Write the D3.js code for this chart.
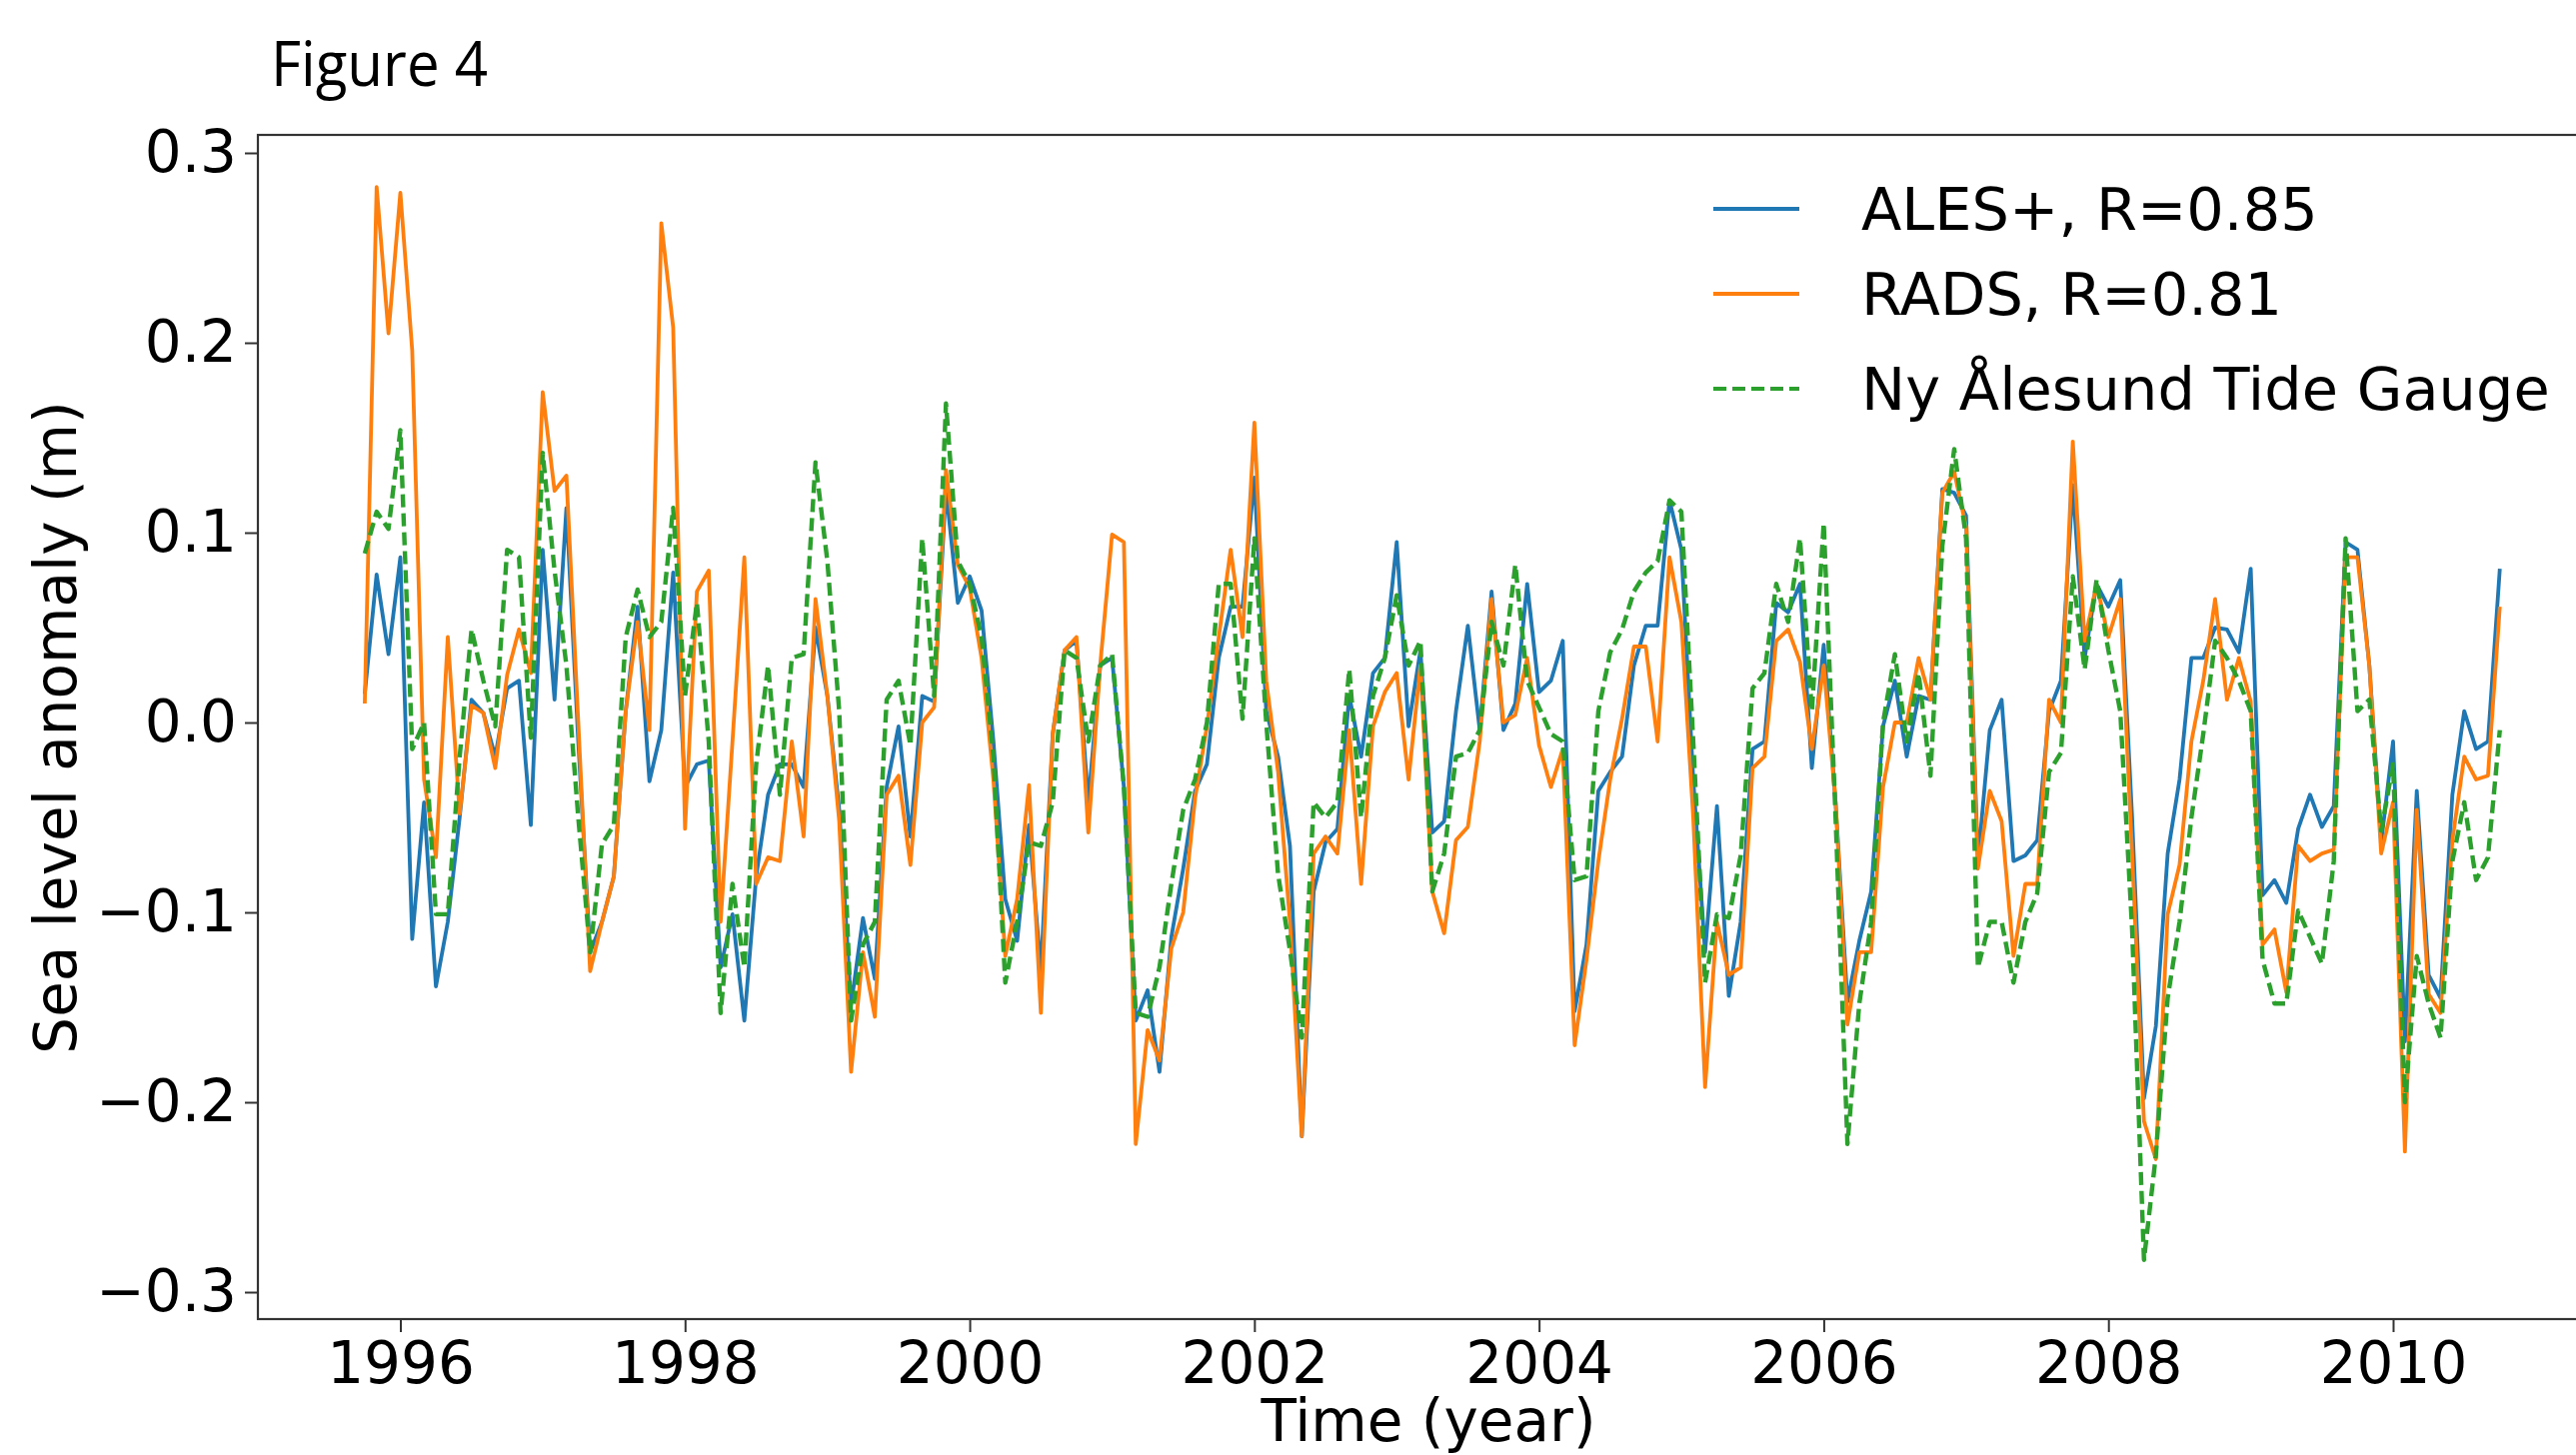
<!DOCTYPE html>
<html>
<head>
<meta charset="utf-8">
<script src="https://cdn.jsdelivr.net/npm/d3@7"></script>
<style>
  body { margin: 0; background: #fff; }
  svg { display: block; }
  .tick text { font-family: "DejaVu Sans", sans-serif; fill: #000; }
  .tick line { stroke: #333; stroke-width: 2; }
</style>
</head>
<body>
<svg id="chart" width="2577" height="1456"></svg>
<script>

// monthly series, first sample at 1995.75
var startYear = 1995.75;

var ales = [0.015,0.078,0.036,0.087,-0.114,-0.042,-0.139,-0.105,-0.050,0.012,0.005,-0.018,0.018,0.022,-0.054,0.091,0.012,0.113,-0.010,-0.121,-0.105,-0.081,0.006,0.061,
  -0.031,-0.004,0.079,-0.034,-0.022,-0.020,-0.129,-0.101,-0.157,-0.081,-0.038,-0.022,-0.022,-0.034,0.050,0.014,-0.046,-0.149,-0.103,-0.135,-0.034,-0.002,-0.060,0.014,
  0.011,0.123,0.063,0.077,0.059,-0.010,-0.093,-0.115,-0.054,-0.131,-0.006,0.038,0.043,-0.042,0.030,0.034,-0.034,-0.157,-0.141,-0.184,-0.113,-0.077,-0.036,-0.022,
  0.034,0.061,0.061,0.129,0.006,-0.018,-0.065,-0.218,-0.089,-0.063,-0.056,0.014,-0.018,0.026,0.034,0.095,-0.002,0.038,-0.058,-0.052,0.006,0.051,-0.004,0.069,
  -0.004,0.010,0.073,0.016,0.022,0.043,-0.152,-0.117,-0.036,-0.026,-0.018,0.030,0.051,0.051,0.117,0.091,-0.030,-0.121,-0.044,-0.144,-0.105,-0.014,-0.010,0.063,
  0.058,0.073,-0.024,0.041,-0.042,-0.147,-0.115,-0.089,-0.002,0.022,-0.018,0.014,0.012,0.123,0.121,0.109,-0.073,-0.004,0.012,-0.073,-0.070,-0.062,0.006,0.022,
  0.125,0.034,0.073,0.061,0.075,-0.050,-0.198,-0.160,-0.069,-0.030,0.034,0.034,0.050,0.049,0.037,0.081,-0.091,-0.083,-0.095,-0.056,-0.038,-0.055,-0.044,0.095,
  0.091,0.030,-0.063,-0.010,-0.168,-0.036,-0.133,-0.145,-0.038,0.006,-0.014,-0.010,0.081];

var rads = [0.010,0.282,0.205,0.279,0.196,-0.030,-0.071,0.045,-0.048,0.009,0.005,-0.024,0.025,0.049,0.026,0.174,0.122,0.130,0.000,-0.131,-0.105,-0.081,0.006,0.053,
  -0.004,0.263,0.208,-0.056,0.069,0.080,-0.105,-0.010,0.087,-0.085,-0.071,-0.073,-0.010,-0.060,0.065,0.014,-0.052,-0.184,-0.121,-0.155,-0.038,-0.028,-0.075,0.000,
  0.008,0.133,0.083,0.071,0.034,-0.030,-0.123,-0.093,-0.033,-0.153,-0.006,0.038,0.045,-0.058,0.030,0.099,0.095,-0.222,-0.162,-0.178,-0.119,-0.100,-0.040,-0.002,
  0.045,0.091,0.045,0.158,0.022,-0.026,-0.105,-0.218,-0.069,-0.060,-0.069,-0.004,-0.085,-0.002,0.016,0.026,-0.030,0.030,-0.089,-0.111,-0.062,-0.055,-0.010,0.065,
  0.000,0.004,0.034,-0.012,-0.034,-0.014,-0.170,-0.125,-0.073,-0.030,0.002,0.040,0.040,-0.010,0.087,0.053,-0.050,-0.192,-0.105,-0.133,-0.129,-0.024,-0.018,0.043,
  0.049,0.032,-0.014,0.030,-0.042,-0.159,-0.121,-0.121,-0.034,0.000,0.000,0.034,0.012,0.121,0.132,0.103,-0.077,-0.036,-0.052,-0.123,-0.085,-0.085,0.012,0.000,
  0.148,0.043,0.073,0.045,0.065,-0.069,-0.210,-0.230,-0.101,-0.075,-0.010,0.022,0.065,0.012,0.034,0.011,-0.117,-0.109,-0.142,-0.065,-0.073,-0.069,-0.067,0.087,
  0.087,0.030,-0.069,-0.042,-0.226,-0.046,-0.143,-0.153,-0.062,-0.018,-0.030,-0.028,0.061];

var tide = [0.089,0.111,0.102,0.154,-0.014,0.000,-0.101,-0.101,-0.018,0.049,0.022,-0.002,0.091,0.087,-0.008,0.142,0.080,0.030,-0.050,-0.121,-0.064,-0.054,0.045,0.070,
  0.045,0.053,0.113,0.014,0.063,-0.010,-0.153,-0.085,-0.129,-0.022,0.030,-0.038,0.034,0.036,0.137,0.085,0.006,-0.157,-0.117,-0.105,0.012,0.022,-0.012,0.097,
  0.014,0.168,0.085,0.073,0.045,-0.018,-0.137,-0.105,-0.063,-0.065,-0.042,0.038,0.034,-0.010,0.030,0.036,-0.034,-0.153,-0.155,-0.129,-0.085,-0.046,-0.030,0.000,
  0.073,0.073,0.002,0.097,0.000,-0.080,-0.120,-0.166,-0.042,-0.050,-0.042,0.028,-0.050,0.014,0.034,0.067,0.030,0.043,-0.089,-0.069,-0.018,-0.016,-0.004,0.053,
  0.030,0.083,0.022,0.008,-0.006,-0.010,-0.083,-0.081,0.006,0.037,0.049,0.069,0.079,0.085,0.117,0.111,-0.010,-0.137,-0.101,-0.103,-0.070,0.018,0.026,0.073,
  0.053,0.097,0.006,0.105,-0.050,-0.222,-0.148,-0.105,0.000,0.036,-0.010,0.026,-0.028,0.093,0.144,0.097,-0.129,-0.105,-0.105,-0.137,-0.105,-0.090,-0.026,-0.016,
  0.077,0.028,0.075,0.038,0.006,-0.109,-0.283,-0.228,-0.145,-0.105,-0.050,-0.006,0.043,0.034,0.022,0.006,-0.125,-0.148,-0.148,-0.099,-0.113,-0.127,-0.073,0.097,
  0.006,0.012,-0.057,-0.022,-0.200,-0.123,-0.148,-0.166,-0.073,-0.042,-0.083,-0.071,-0.004];

var yearTicks  = [1996, 1998, 2000, 2002, 2004, 2006, 2008, 2010];
var valueTicks = [0.3, 0.2, 0.1, 0.0, -0.1, -0.2, -0.3];
var seriesNames  = ["ALES+, R=0.85", "RADS, R=0.81", "Ny \u00c5lesund Tide Gauge"];
var seriesColors = ["#1f77b4", "#ff7f0e", "#2ca02c"];

var svg = d3.select("#chart");

// plot frame (right side runs off the page like in the figure)
var frameLeft = 258, frameTop = 135, frameRight = 2600, frameBottom = 1320;

var xScale = d3.scaleLinear().domain([1996, 2010]).range([400.5, 2394]);
var yScale = d3.scaleLinear().domain([-0.3, 0.3]).range([1293, 153]);

function monthYear(i) { return startYear + i / 12; }

var line = d3.line()
    .x(function(d, i) { return xScale(monthYear(i)); })
    .y(function(d) { return yScale(d); });

var allSeries = [ales, rads, tide];
for (var kk = 0; kk < allSeries.length; kk++) {
  svg.append("path")
    .datum(allSeries[kk])
    .attr("d", line)
    .attr("fill", "none")
    .attr("stroke", seriesColors[kk])
    .attr("stroke-width", kk == 2 ? 4.4 : 3.8)
    .attr("stroke-linejoin", "round")
    .attr("stroke-dasharray", kk == 2 ? "13,6" : null);
}

// axes
var xAxis = d3.axisBottom(xScale).tickValues(yearTicks).tickSize(13).tickPadding(10)
    .tickFormat(d3.format("d"));
var yAxis = d3.axisLeft(yScale).tickValues(valueTicks).tickSize(13).tickPadding(8)
    .tickFormat(function(d) { return d3.format(".1f")(d).replace("-", "\u2212"); });

var gx = svg.append("g").attr("transform", "translate(0," + frameBottom + ")").call(xAxis);
gx.select(".domain").remove();
gx.selectAll(".tick text").attr("font-size", 58);

var gy = svg.append("g").attr("transform", "translate(" + frameLeft + ",0)").call(yAxis);
gy.select(".domain").remove();
gy.selectAll(".tick text").attr("font-size", 58);

svg.append("rect")
  .attr("x", frameLeft).attr("y", frameTop)
  .attr("width", frameRight - frameLeft).attr("height", frameBottom - frameTop)
  .attr("fill", "none").attr("stroke", "#333").attr("stroke-width", 2.2);

// labels
svg.append("text")
  .attr("x", 271).attr("y", 86)
  .attr("font-family", "Open Sans, sans-serif").attr("font-size", 62)
  .attr("textLength", 217).attr("lengthAdjust", "spacingAndGlyphs")
  .text("Figure 4");

svg.append("text")
  .attr("x", 1429).attr("y", 1442)
  .attr("text-anchor", "middle")
  .attr("font-family", "DejaVu Sans, sans-serif").attr("font-size", 58)
  .text("Time (year)");

svg.append("text")
  .attr("transform", "translate(76,728) rotate(-90)")
  .attr("text-anchor", "middle")
  .attr("font-family", "DejaVu Sans, sans-serif").attr("font-size", 58)
  .text("Sea level anomaly (m)");

// legend
var legendRows = [209, 294, 389];
var legend = svg.append("g");
for (var kk = 0; kk < seriesNames.length; kk++) {
  legend.append("line")
    .attr("x1", 1714).attr("x2", 1800)
    .attr("y1", legendRows[kk]).attr("y2", legendRows[kk])
    .attr("stroke", seriesColors[kk])
    .attr("stroke-width", 3.8)
    .attr("stroke-dasharray", kk == 2 ? "13,6" : null);
  legend.append("text")
    .attr("x", 1862).attr("y", legendRows[kk])
    .attr("dy", "0.36em")
    .attr("font-family", "DejaVu Sans, sans-serif").attr("font-size", 59)
    .text(seriesNames[kk]);
}

</script>
</body>
</html>
